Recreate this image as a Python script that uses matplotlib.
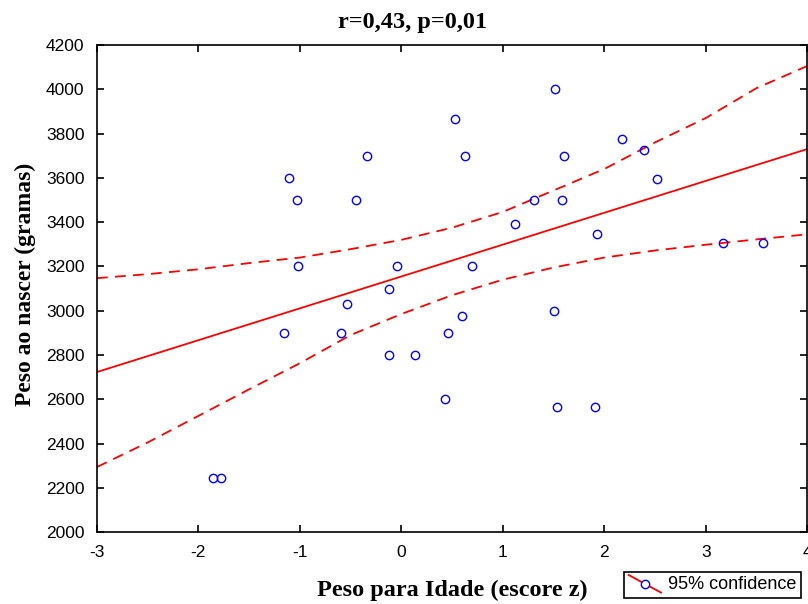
import matplotlib
matplotlib.use('Agg')
import matplotlib.pyplot as plt
from matplotlib.lines import Line2D
from matplotlib.legend_handler import HandlerBase

plt.rcParams['axes.unicode_minus'] = False

# Dados
peso_idade_z = [-1.11, -1.03, -1.02, -1.16, -0.34, -0.45, -0.54, -0.59, -0.12, -0.04,
                -0.12, 0.13, -1.86, -1.78, 0.43, 0.46, 0.60, 0.53, 0.63, 0.70,
                1.12, 1.31, 1.51, 1.60, 1.58, 1.50, 1.53, 1.91, 2.17, 2.39,
                2.52, 1.93, 3.17, 3.56]
peso_nascer = [3600, 3500, 3200, 2900, 3700, 3500, 3030, 2900, 3100, 3200,
               2800, 2800, 2245, 2245, 2600, 2900, 2975, 3865, 3700, 3200,
               3390, 3500, 4000, 3700, 3500, 3000, 2565, 2565, 3775, 3725,
               3595, 3345, 3305, 3305]

# Reta de regressão e faixa de confiança de 95%
reta_x = [-3, 4]
reta_y = [2723, 3730]
faixa_x = [-3, -2.5, -2, -1.5, -1, -0.5, 0, 0.5, 1, 1.5, 2, 2.5, 3, 3.5, 4]
faixa_sup = [3147, 3165, 3187, 3215, 3240, 3278, 3320, 3375, 3446, 3543,
             3640, 3760, 3870, 4005, 4105]
faixa_inf = [2294, 2405, 2525, 2645, 2763, 2890, 2985, 3070, 3140, 3195,
             3240, 3272, 3298, 3322, 3345]

x_ticks = [-3, -2, -1, 0, 1, 2, 3, 4]
y_ticks = list(range(2000, 4201, 200))


class DiagHandler(HandlerBase):
    # linha diagonal com círculo no meio, como na legenda original
    def create_artists(self, legend, orig, xd, yd, w, h, fs, trans):
        ln = Line2D([xd, xd + w], [yd + h * 1.15, yd - h * 0.25], color='red', lw=1.3,
                    transform=trans)
        mk = Line2D([xd + w / 2], [yd + h * 0.45], marker='o', ms=6, mfc='white',
                    mec='blue', mew=1, ls='none', transform=trans)
        return [ln, mk]


fig = plt.figure(figsize=(8.08, 6.04), dpi=100)
ax = fig.add_axes([0.12, 0.119, 0.879, 0.8065])

ax.plot(reta_x, reta_y, color='red', lw=1.3)
ax.plot(faixa_x, faixa_sup, color='red', lw=1.3, dashes=(6, 4))
ax.plot(faixa_x, faixa_inf, color='red', lw=1.3, dashes=(6, 4))
pts, = ax.plot(peso_idade_z, peso_nascer, 'o', ms=6, mfc='none', mec='blue', mew=1)

ax.set_xlim(-3, 4)
ax.set_ylim(2000, 4200)
ax.set_xticks(x_ticks)
ax.set_yticks(y_ticks)
ax.tick_params(direction='in', top=True, right=True, length=5, width=1.2,
               labelsize=12.5, pad=9)
for lab in ax.get_xticklabels() + ax.get_yticklabels():
    lab.set_family('Liberation Sans')
for sp in ax.spines.values():
    sp.set_linewidth(1.2)

fig.text(0.51, 0.963, 'r=0,43, p=0,01', family='Liberation Serif',
         fontweight='bold', fontsize=17.5, ha='center', va='center')
fig.text(0.56, 0.023, 'Peso para Idade (escore z)', family='Liberation Serif',
         fontweight='bold', fontsize=17.5, ha='center', va='center')
fig.text(0.031, 0.53, 'Peso ao nascer (gramas)', family='Liberation Serif',
         fontweight='bold', fontsize=17, ha='center', va='center', rotation=90)

leg = fig.legend([pts], ['95% confidence'], handler_map={pts: DiagHandler()},
                 loc='lower right', bbox_to_anchor=(0.996, 0.004),
                 prop={'family': 'Liberation Sans', 'size': 13},
                 fancybox=False, edgecolor='black', framealpha=1,
                 handlelength=1.8, handletextpad=0.4, borderpad=0.25,
                 borderaxespad=0.2)
leg.get_frame().set_linewidth(1.2)

fig.savefig('out.png', dpi=100)
